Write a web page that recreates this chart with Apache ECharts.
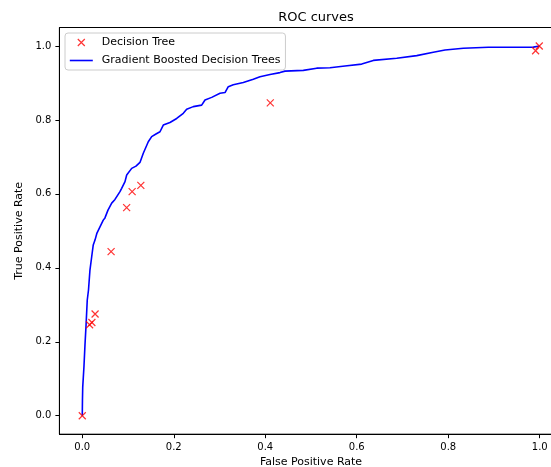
<!DOCTYPE html>
<html>
<head>
<meta charset="utf-8">
<script src="https://cdn.jsdelivr.net/npm/echarts@6/dist/echarts.min.js"></script>
<style>
html,body{margin:0;padding:0;background:#fff;}
#c{width:551px;height:467px;}
</style>
</head>
<body>
<div id="c"></div>
<script>
const titleText = 'ROC curves';
const xLabel = 'False Positive Rate';
const yLabel = 'True Positive Rate';
const seriesNames = ['Decision Tree', 'Gradient Boosted Decision Trees'];
const tickValues = [0, 0.2, 0.4, 0.6, 0.8, 1.0];

// Decision Tree ROC points
const dtFpr = [0, 0.016, 0.021, 0.028, 0.063, 0.097, 0.109, 0.128, 0.411, 0.991, 0.999];
const dtTpr = [0, 0.246, 0.252, 0.275, 0.444, 0.563, 0.606, 0.623, 0.846, 0.987, 1.0];

// Gradient Boosted Decision Trees ROC curve
const gbFpr = [0, 0.0004, 0.001, 0.0037, 0.0059, 0.0081, 0.0109, 0.0136, 0.0168, 0.0206,
  0.024, 0.0278, 0.0321, 0.0387, 0.0459, 0.0496, 0.0562, 0.0643, 0.0715, 0.0824,
  0.0861, 0.0934, 0.0971, 0.108, 0.1174, 0.1261, 0.1334, 0.1443, 0.1517, 0.1611,
  0.1699, 0.1771, 0.1917, 0.2064, 0.2208, 0.2282, 0.2427, 0.261, 0.2683, 0.2829,
  0.3011, 0.312, 0.3192, 0.3301, 0.352, 0.3739, 0.3885, 0.4104, 0.4322, 0.4431,
  0.4832, 0.5125, 0.5415, 0.5743, 0.6108, 0.6362, 0.6874, 0.7311, 0.7674, 0.793,
  0.833, 0.8876, 0.986, 1.0];
const gbTpr = [0, 0.042, 0.078, 0.133, 0.191, 0.241, 0.313, 0.34, 0.394, 0.43,
  0.462, 0.475, 0.494, 0.511, 0.529, 0.535, 0.556, 0.575, 0.585, 0.606,
  0.615, 0.633, 0.651, 0.669, 0.675, 0.685, 0.71, 0.741, 0.755, 0.762,
  0.768, 0.786, 0.793, 0.804, 0.818, 0.829, 0.836, 0.84, 0.854, 0.861,
  0.872, 0.874, 0.89, 0.895, 0.901, 0.91, 0.917, 0.923, 0.928, 0.932,
  0.934, 0.94, 0.941, 0.946, 0.951, 0.961, 0.967, 0.974, 0.983, 0.989,
  0.994, 0.9965, 0.997, 1.0];

const dtData = dtFpr.map((x, i) => [x, dtTpr[i]]);
const gbData = gbFpr.map((x, i) => [x, gbTpr[i]]);

const FONT = 'DejaVu Sans';
const xMark = 'path://M0,0L10,10M10,0L0,10';

const chart = echarts.init(document.getElementById('c'), null, {renderer: 'canvas'});
const axisCommon = {
  type: 'value',
  min: -0.05,
  max: 1.05,
  splitLine: {show: false},
  axisLine: {show: true, onZero: false, lineStyle: {color: '#000', width: 1}},
  axisTick: {show: true, inside: false, length: 4, customValues: tickValues, lineStyle: {color: '#000', width: 1}},
  axisLabel: {customValues: tickValues, formatter: v => v.toFixed(1), color: '#000', fontFamily: FONT, fontSize: 10, margin: 8},
  nameLocation: 'middle',
  nameTextStyle: {color: '#000', fontFamily: FONT, fontSize: 11}
};
chart.setOption({
  animation: false,
  backgroundColor: '#fff',
  title: {
    text: titleText, left: 311, top: 6, textAlign: 'center',
    textStyle: {color: '#000', fontFamily: FONT, fontSize: 13, fontWeight: 'normal'}
  },
  grid: {
    left: 59.4, top: 27.5, width: 503.2, height: 406.7,
    show: true, borderColor: '#000', borderWidth: 1, backgroundColor: 'transparent',
    containLabel: false, outerBoundsMode: 'none'
  },
  legend: {
    orient: 'vertical', left: 65, top: 33,
    padding: [4, 5, 4, 4],
    itemWidth: 23, itemHeight: 7, itemGap: 7,
    backgroundColor: 'rgba(255,255,255,0.8)',
    borderColor: '#cccccc', borderWidth: 1, borderRadius: 3,
    textStyle: {color: '#000', fontFamily: FONT, fontSize: 11, padding: [0, 0, 0, 4]},
    data: [
      {name: seriesNames[0], icon: xMark, itemStyle: {color: 'transparent', borderColor: '#ff0000', borderWidth: 1.2}},
      {name: seriesNames[1], itemStyle: {opacity: 0}, lineStyle: {color: '#0000ff', width: 1.6}}
    ]
  },
  xAxis: Object.assign({}, axisCommon, {name: xLabel, nameGap: 22}),
  yAxis: Object.assign({}, axisCommon, {name: yLabel, nameGap: 29}),
  series: [
    {
      name: seriesNames[0], type: 'scatter', data: dtData,
      symbol: xMark, symbolSize: 7,
      itemStyle: {color: 'transparent', borderColor: '#ff0000', borderWidth: 1.2},
      z: 3
    },
    {
      name: seriesNames[1], type: 'line', data: gbData,
      symbol: 'none', showSymbol: false,
      lineStyle: {color: '#0000ff', width: 1.6},
      itemStyle: {color: '#0000ff'},
      z: 2
    }
  ]
});
</script>
</body>
</html>
